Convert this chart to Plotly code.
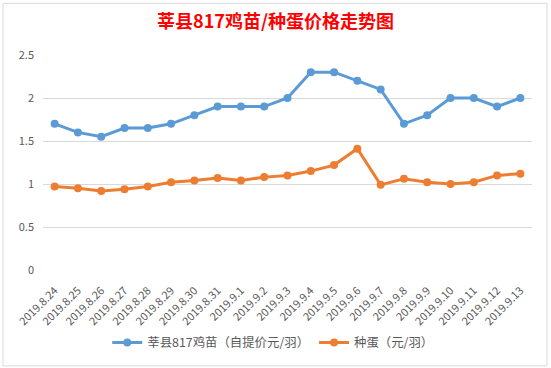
import plotly.graph_objects as go

dates = ["2019.8.24", "2019.8.25", "2019.8.26", "2019.8.27", "2019.8.28", "2019.8.29",
         "2019.8.30", "2019.8.31", "2019.9.1", "2019.9.2", "2019.9.3", "2019.9.4",
         "2019.9.5", "2019.9.6", "2019.9.7", "2019.9.8", "2019.9.9", "2019.9.10",
         "2019.9.11", "2019.9.12", "2019.9.13"]
chick_price = [1.7, 1.6, 1.55, 1.65, 1.65, 1.7, 1.8, 1.9, 1.9, 1.9, 2.0, 2.3,
               2.3, 2.2, 2.1, 1.7, 1.8, 2.0, 2.0, 1.9, 2.0]
egg_price = [0.97, 0.95, 0.92, 0.94, 0.97, 1.02, 1.04, 1.07, 1.04, 1.08, 1.10, 1.15,
             1.22, 1.41, 0.99, 1.06, 1.02, 1.00, 1.02, 1.10, 1.12]
series_names = ["莘县817鸡苗（自提价元/羽）", "种蛋（元/羽）"]
y_ticks = [0, 0.5, 1, 1.5, 2, 2.5]
y_tick_labels = ["0", "0.5", "1", "1.5", "2", "2.5"]

FONT = "Noto Sans CJK SC, Microsoft YaHei, sans-serif"

fig = go.Figure()
fig.add_trace(go.Scatter(x=dates, y=chick_price, name=series_names[0], mode="lines+markers",
                         line=dict(color="#5B9BD5", width=3),
                         marker=dict(color="#5B9BD5", size=8)))
fig.add_trace(go.Scatter(x=dates, y=egg_price, name=series_names[1], mode="lines+markers",
                         line=dict(color="#ED7D31", width=3),
                         marker=dict(color="#ED7D31", size=8)))

fig.update_layout(
    width=551, height=368,
    margin=dict(l=43, r=19, t=55, b=98),
    paper_bgcolor="white", plot_bgcolor="white",
    font=dict(family=FONT, color="#595959", size=11),
    title=dict(text="<b>莘县817鸡苗/种蛋价格走势图</b>", x=0.5, xref="container", xanchor="center",
               y=1 - 22 / 368, yref="container", yanchor="middle",
               font=dict(family=FONT, size=18, color="#FF0000")),
    showlegend=True,
    legend=dict(orientation="h", x=0.495, xref="container", xanchor="center",
                y=0.068, yref="container", yanchor="middle",
                font=dict(family=FONT, size=12.4, color="#595959"),
                itemwidth=30, bgcolor="rgba(0,0,0,0)"),
    xaxis=dict(type="category", range=[-0.5, 20.5], tickangle=-45, showgrid=False,
               showline=False, ticks="", tickfont=dict(size=11, color="#595959"),
               ticklabelstandoff=11, automargin=False, fixedrange=True),
    yaxis=dict(range=[0, 2.5], tickvals=y_ticks, ticktext=y_tick_labels,
               showgrid=True, gridcolor="#D9D9D9", gridwidth=1, zeroline=False,
               showline=False, ticks="", tickfont=dict(size=11, color="#595959"),
               ticklabelstandoff=8, automargin=False, fixedrange=True),
)

# chart border (Excel chart area)
fig.add_shape(type="rect", xref="paper", yref="paper",
              x0=-40/489, x1=(547-43)/489, y0=-(366-270)/215.3, y1=(270-3)/215.3,
              line=dict(color="#D9D9D9", width=1), fillcolor="rgba(0,0,0,0)", layer="below")

fig.write_html("out.html", config={"displayModeBar": False},
               post_script="document.body.style.margin='0';")
